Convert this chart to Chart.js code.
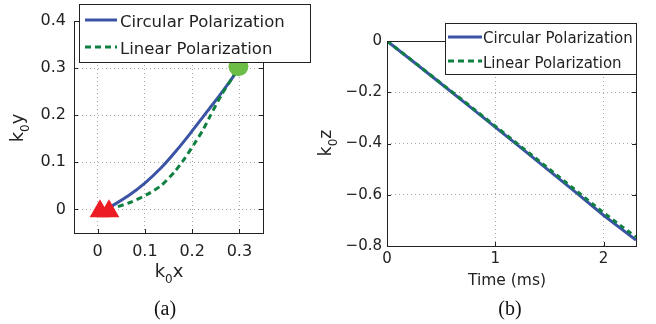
<!DOCTYPE html>
<html>
<head>
<meta charset="utf-8">
<script src="https://cdn.jsdelivr.net/npm/chart.js@4/dist/chart.umd.min.js"></script>
<style>
  body { margin: 0; width: 656px; height: 324px; background: #fff; position: relative; overflow: hidden; }
  canvas { position: absolute; top: 0; }
  #chartA { left: 0; }
  #chartB { left: 300px; }
  .cap { position: absolute; top: 298px; width: 60px; text-align: center; line-height: 20px;
         font-family: "Liberation Serif", "DejaVu Serif", serif; font-size: 20px; color: #111; }
</style>
</head>
<body>
<canvas id="chartA" width="320" height="324" style="width:320px;height:324px"></canvas>
<canvas id="chartB" width="356" height="324" style="width:356px;height:324px"></canvas>
<div class="cap" style="left:135px">(a)</div>
<div class="cap" style="left:480px">(b)</div>
<script>
// Data
const legendLabels = ["Circular Polarization", "Linear Polarization"];

// (a) trajectory in the x-y plane
const xTicksA = [0, 0.1, 0.2, 0.3];
const yTicksA = [0, 0.1, 0.2, 0.3, 0.4];
const circXA = [0.03, 0.065, 0.1, 0.135, 0.165, 0.195, 0.225, 0.255, 0.28, 0.296];
const circYA = [0.007, 0.029, 0.056, 0.089, 0.123, 0.16, 0.199, 0.238, 0.272, 0.295];
const linXA = [0.043, 0.072, 0.107, 0.135, 0.163, 0.184, 0.205, 0.222, 0.237, 0.262, 0.283, 0.295];
const linYA = [0.006, 0.016, 0.033, 0.051, 0.08, 0.108, 0.14, 0.167, 0.196, 0.243, 0.276, 0.296];
const startXA = [0.005, 0.024];
const startYA = [-0.004, -0.004];
const endXA = [0.298];
const endYA = [0.304];

// (b) z against time
const timeB = [0, 0.25, 0.5, 0.75, 1, 1.25, 1.5, 1.75, 2, 2.3];
const circB = [0, -0.083, -0.167, -0.251, -0.336, -0.421, -0.507, -0.593, -0.68, -0.777];
const linB = [0, -0.082, -0.165, -0.248, -0.332, -0.416, -0.5, -0.585, -0.67, -0.765];
const xTicksB = [0, 1, 2];
const yTicksB = [0, -0.2, -0.4, -0.6, -0.8];

// Colours
const azul = "#3a53a4";
const verde = "#0f8040";
const vermelho = "#ec1c24";
const verdeClaro = "#6bbd45";
const fonte = "'DejaVu Sans', sans-serif";

function pontos(xs, ys) {
  return xs.map((x, i) => ({ x: x, y: ys[i] }));
}

// writes "k₀x" style labels, optionally rotated
function rotuloSub(ctx, a, sub, b, x, y, size, rot) {
  ctx.save();
  ctx.translate(x, y);
  if (rot) ctx.rotate(-Math.PI / 2);
  ctx.fillStyle = "#222";
  ctx.textBaseline = "alphabetic";
  ctx.textAlign = "left";
  const big = size + "px " + fonte;
  const small = Math.round(size * 0.68) + "px " + fonte;
  ctx.font = big;
  const wa = ctx.measureText(a).width, wb = ctx.measureText(b).width;
  ctx.font = small;
  const ws = ctx.measureText(sub).width;
  let px = -(wa + ws + wb) / 2;
  ctx.font = big;
  ctx.fillText(a, px, 0);
  px += wa;
  ctx.font = small;
  ctx.fillText(sub, px, size * 0.35);
  px += ws;
  ctx.font = big;
  ctx.fillText(b, px, 0);
  ctx.restore();
}

// box, inner ticks, legend and axis titles
function decoracao(cfg) {
  return {
    id: "decoracao",
    afterDraw(chart) {
      const ctx = chart.ctx;
      const a = chart.chartArea;
      const sx = chart.scales.x, sy = chart.scales.y;
      ctx.save();
      ctx.strokeStyle = "#222";
      ctx.lineWidth = 1;
      ctx.setLineDash([]);
      ctx.beginPath();
      sx.ticks.forEach(t => {
        const p = Math.round(sx.getPixelForValue(t.value)) + 0.5;
        ctx.moveTo(p, a.bottom); ctx.lineTo(p, a.bottom - 4);
        ctx.moveTo(p, a.top); ctx.lineTo(p, a.top + 4);
      });
      sy.ticks.forEach(t => {
        const p = Math.round(sy.getPixelForValue(t.value)) + 0.5;
        ctx.moveTo(a.left, p); ctx.lineTo(a.left + 4, p);
        ctx.moveTo(a.right, p); ctx.lineTo(a.right - 4, p);
      });
      ctx.stroke();
      ctx.strokeRect(Math.round(a.left) + 0.5, Math.round(a.top) + 0.5,
        Math.round(a.right - a.left), Math.round(a.bottom - a.top));

      // legenda
      const L = cfg.legenda;
      ctx.fillStyle = "#fff";
      ctx.fillRect(L.x, L.y, L.w, L.h);
      ctx.strokeRect(L.x + 0.5, L.y + 0.5, L.w, L.h);
      ctx.lineWidth = 3;
      ctx.strokeStyle = azul;
      ctx.beginPath(); ctx.moveTo(L.x1, L.l1); ctx.lineTo(L.x2, L.l1); ctx.stroke();
      ctx.strokeStyle = verde;
      ctx.setLineDash([6, 4]);
      ctx.beginPath(); ctx.moveTo(L.x1, L.l2); ctx.lineTo(L.x2, L.l2); ctx.stroke();
      ctx.setLineDash([]);
      ctx.fillStyle = "#222";
      ctx.font = L.size + "px " + fonte;
      ctx.textAlign = "left";
      ctx.textBaseline = "alphabetic";
      ctx.fillText(legendLabels[0], L.tx, L.b1);
      ctx.fillText(legendLabels[1], L.tx, L.b2);

      // titulos dos eixos
      cfg.titulos.forEach(t => {
        if (t.sub) rotuloSub(ctx, t.a, t.sub, t.b, t.x, t.y, t.size, t.rot);
        else {
          ctx.fillStyle = "#222";
          ctx.font = t.size + "px " + fonte;
          ctx.textAlign = "center";
          ctx.fillText(t.a, t.x, t.y);
        }
      });
      ctx.restore();
    }
  };
}

function eixo(min, max, ticks, fmt, size, pad, fit, isX) {
  return {
    type: "linear",
    min: min,
    max: max,
    afterBuildTicks: s => { s.ticks = ticks.map(v => ({ value: v })); },
    afterFit: s => { if (isX) s.height = fit; else s.width = fit; },
    ticks: { color: "#222", font: { family: fonte, size: size }, padding: pad, callback: fmt, autoSkip: false, maxRotation: 0 },
    grid: { color: "#a8a8a8", lineWidth: 1, drawTicks: false },
    border: { display: false, dash: [1, 3] }
  };
}

const fmtA = v => (v === 0 ? "0" : v.toFixed(1));
const fmtB = v => (v === 0 ? "0" : v.toFixed(1).replace("-", "\u2212"));
const fmtInt = v => String(v);

const baseOpcoes = {
  responsive: false,
  animation: false,
  events: [],
  plugins: { legend: { display: false }, tooltip: { enabled: false } }
};

new Chart(document.querySelector("#chartA"), {
  type: "scatter",
  data: {
    datasets: [
      { data: pontos(endXA, endYA), pointStyle: "circle", pointRadius: 10, backgroundColor: verdeClaro, borderWidth: 0 },
      { data: pontos(startXA, startYA), pointStyle: "triangle", pointRadius: 12, backgroundColor: vermelho, borderWidth: 0 },
      { data: pontos(linXA, linYA), showLine: true, pointRadius: 0, borderColor: verde, borderWidth: 3, borderDash: [6, 4], tension: 0.2 },
      { data: pontos(circXA, circYA), showLine: true, pointRadius: 0, borderColor: azul, borderWidth: 3, tension: 0.2 }
    ]
  },
  options: Object.assign({}, baseOpcoes, {
    layout: { padding: { left: 0, top: 21, right: 57, bottom: 0 } },
    scales: {
      x: eixo(-0.05, 0.35, xTicksA, fmtA, 16, 9, 91, true),
      y: eixo(-0.05, 0.4, yTicksA, fmtA, 16, 8, 74, false)
    }
  }),
  plugins: [decoracao({
    legenda: { x: 79, y: 4, w: 231, h: 58, x1: 85, x2: 117, l1: 20, l2: 47, tx: 120, b1: 27, b2: 54, size: 16.5 },
    titulos: [
      { a: "k", sub: "0", b: "y", x: 23, y: 128, size: 18, rot: true },
      { a: "k", sub: "0", b: "x", x: 169, y: 277, size: 18, rot: false }
    ]
  })]
});

new Chart(document.querySelector("#chartB"), {
  type: "scatter",
  data: {
    datasets: [
      { data: pontos(timeB, linB), showLine: true, pointRadius: 0, borderColor: verde, borderWidth: 3, borderDash: [5, 4], tension: 0 },
      { data: pontos(timeB, circB), showLine: true, pointRadius: 0, borderColor: azul, borderWidth: 3, tension: 0 }
    ]
  },
  options: Object.assign({}, baseOpcoes, {
    layout: { padding: { left: 0, top: 41, right: 20, bottom: 0 } },
    scales: {
      x: eixo(0, 2.3, xTicksB, fmtInt, 15, 4, 78, true),
      y: eixo(-0.8, 0, yTicksB, fmtB, 15, 5, 87, false)
    }
  }),
  plugins: [decoracao({
    legenda: { x: 145, y: 23, w: 191, h: 51, x1: 148, x2: 182, l1: 37, l2: 61, tx: 183, b1: 43, b2: 68, size: 15 },
    titulos: [
      { a: "k", sub: "0", b: "z", x: 31, y: 143, size: 17, rot: true },
      { a: "Time (ms)", x: 207, y: 285, size: 15.5 }
    ]
  })]
});
</script>
</body>
</html>
